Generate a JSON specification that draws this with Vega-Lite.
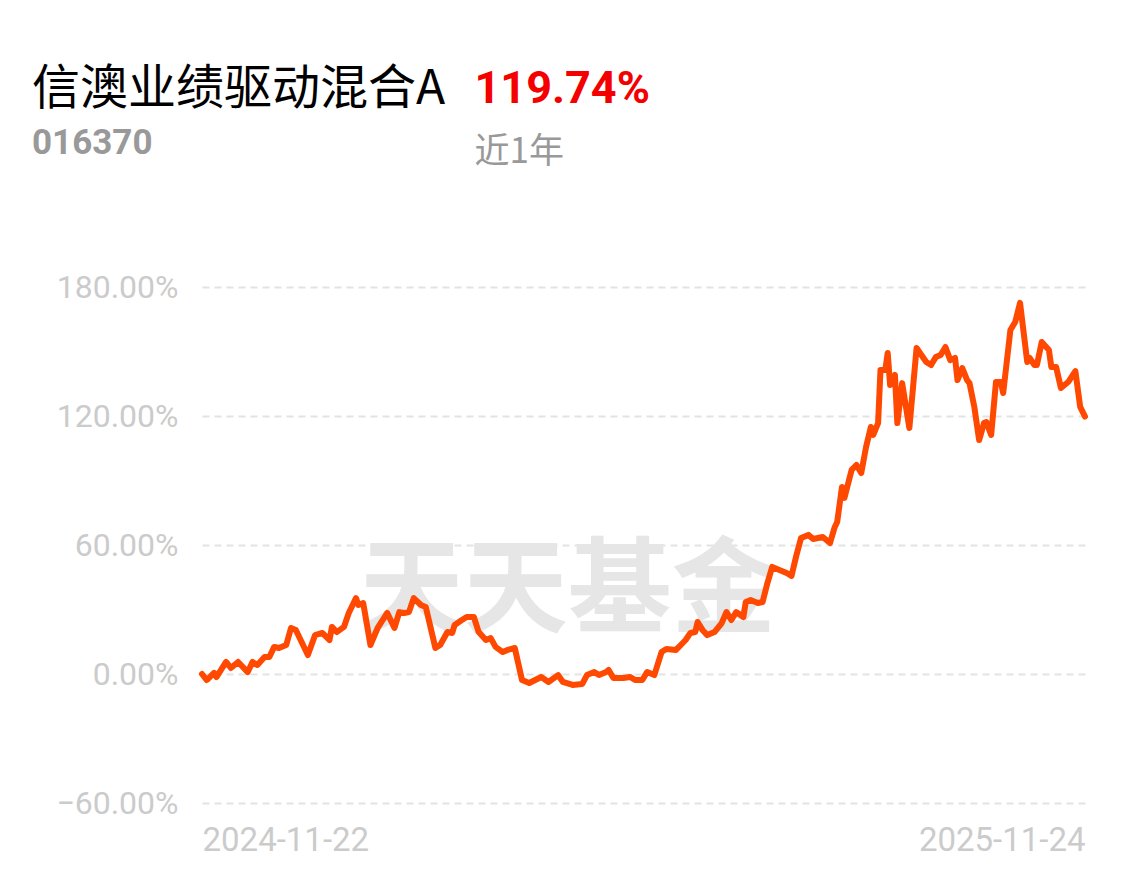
{
  "$schema": "https://vega.github.io/schema/vega-lite/v6.json",
  "width": 883,
  "height": 516,
  "autosize": {"type": "none"},
  "padding": {"left": 202, "top": 287, "right": 45, "bottom": 73},
  "background": "#ffffff",
  "config": {"view": {"stroke": null}},
  "title": {
    "text": "信澳业绩驱动混合A",
    "subtitle": "016370",
    "anchor": "start",
    "frame": "group",
    "orient": "top",
    "dx": -170,
    "dy": 95,
    "offset": 0,
    "font": "Noto Sans CJK SC",
    "fontSize": 48,
    "fontWeight": "normal",
    "color": "#000000",
    "subtitleFont": "Roboto",
    "subtitleFontSize": 35,
    "subtitleFontWeight": "bold",
    "subtitleColor": "#999999",
    "subtitlePadding": 12
  },
  "layer": [
    {
      "data": {"values": [{"wm": "天天基金"}]},
      "mark": {"type": "text", "font": "Noto Sans CJK SC", "fontWeight": "bold", "fontSize": 104, "color": "#e6e6e6", "align": "center", "baseline": "middle"},
      "encoding": {
        "text": {"field": "wm"},
        "x": {
          "datum": {"year": 2025, "month": 4, "date": 23, "utc": true},
          "type": "temporal",
          "axis": {
            "orient": "top", "labels": false, "ticks": false, "domain": false, "grid": false,
            "title": "119.74%", "titleX": 272, "titleY": -185, "titleAlign": "left", "titleBaseline": "alphabetic", "titleAngle": 0,
            "titleFont": "Roboto", "titleFontSize": 45, "titleFontWeight": "bold", "titleColor": "#f40000"
          }
        },
        "y": {
          "datum": 37,
          "type": "quantitative",
          "axis": {
            "orient": "right", "labels": false, "ticks": false, "domain": false, "grid": false,
            "title": "近1年", "titleX": -611, "titleY": -125, "titleAlign": "left", "titleBaseline": "alphabetic", "titleAngle": 0,
            "titleFont": "Noto Sans CJK SC", "titleFontSize": 35, "titleFontWeight": "normal", "titleColor": "#999999"
          }
        }
      }
    },
    {
      "data": {"values": [
        {"date": "2024-11-22", "value": 0},
        {"date": "2024-11-24", "value": -2.8},
        {"date": "2024-11-27", "value": 0.5},
        {"date": "2024-11-28", "value": -1.4},
        {"date": "2024-12-02", "value": 5.6},
        {"date": "2024-12-04", "value": 2.8},
        {"date": "2024-12-07", "value": 5.6},
        {"date": "2024-12-11", "value": 0.9},
        {"date": "2024-12-13", "value": 5.6},
        {"date": "2024-12-15", "value": 4.2},
        {"date": "2024-12-18", "value": 7.9},
        {"date": "2024-12-20", "value": 7.9},
        {"date": "2024-12-22", "value": 12.6},
        {"date": "2024-12-24", "value": 12.1},
        {"date": "2024-12-27", "value": 13.5},
        {"date": "2024-12-29", "value": 21.4},
        {"date": "2024-12-31", "value": 20.5},
        {"date": "2025-01-03", "value": 13.5},
        {"date": "2025-01-05", "value": 8.8},
        {"date": "2025-01-08", "value": 18.1},
        {"date": "2025-01-11", "value": 19.1},
        {"date": "2025-01-14", "value": 15.8},
        {"date": "2025-01-15", "value": 21.9},
        {"date": "2025-01-17", "value": 19.5},
        {"date": "2025-01-20", "value": 21.9},
        {"date": "2025-01-22", "value": 28.4},
        {"date": "2025-01-25", "value": 35.3},
        {"date": "2025-01-26", "value": 32.1},
        {"date": "2025-01-28", "value": 33.0},
        {"date": "2025-01-31", "value": 13.5},
        {"date": "2025-02-03", "value": 21.4},
        {"date": "2025-02-07", "value": 28.4},
        {"date": "2025-02-10", "value": 21.4},
        {"date": "2025-02-12", "value": 28.8},
        {"date": "2025-02-14", "value": 28.4},
        {"date": "2025-02-16", "value": 28.8},
        {"date": "2025-02-18", "value": 35.3},
        {"date": "2025-02-21", "value": 32.1},
        {"date": "2025-02-23", "value": 31.2},
        {"date": "2025-02-27", "value": 12.1},
        {"date": "2025-03-01", "value": 13.5},
        {"date": "2025-03-04", "value": 19.5},
        {"date": "2025-03-06", "value": 19.1},
        {"date": "2025-03-07", "value": 22.8},
        {"date": "2025-03-10", "value": 25.1},
        {"date": "2025-03-12", "value": 26.5},
        {"date": "2025-03-15", "value": 26.5},
        {"date": "2025-03-17", "value": 19.5},
        {"date": "2025-03-20", "value": 15.8},
        {"date": "2025-03-22", "value": 16.7},
        {"date": "2025-03-24", "value": 12.6},
        {"date": "2025-03-27", "value": 10.2},
        {"date": "2025-03-29", "value": 11.2},
        {"date": "2025-04-01", "value": 12.1},
        {"date": "2025-04-04", "value": -2.8},
        {"date": "2025-04-07", "value": -4.2},
        {"date": "2025-04-12", "value": -1.4},
        {"date": "2025-04-15", "value": -3.7},
        {"date": "2025-04-19", "value": -0.5},
        {"date": "2025-04-21", "value": -3.7},
        {"date": "2025-04-25", "value": -5.1},
        {"date": "2025-04-29", "value": -4.7},
        {"date": "2025-05-01", "value": -0.5},
        {"date": "2025-05-04", "value": 0.9},
        {"date": "2025-05-06", "value": -0.5},
        {"date": "2025-05-09", "value": 0.9},
        {"date": "2025-05-10", "value": 1.9},
        {"date": "2025-05-12", "value": -1.9},
        {"date": "2025-05-16", "value": -1.9},
        {"date": "2025-05-19", "value": -1.4},
        {"date": "2025-05-21", "value": -2.8},
        {"date": "2025-05-24", "value": -2.8},
        {"date": "2025-05-26", "value": 0.9},
        {"date": "2025-05-29", "value": -0.5},
        {"date": "2025-06-01", "value": 10.2},
        {"date": "2025-06-03", "value": 11.6},
        {"date": "2025-06-07", "value": 11.2},
        {"date": "2025-06-09", "value": 13.5},
        {"date": "2025-06-11", "value": 15.8},
        {"date": "2025-06-13", "value": 19.1},
        {"date": "2025-06-15", "value": 19.5},
        {"date": "2025-06-16", "value": 24.2},
        {"date": "2025-06-18", "value": 20.5},
        {"date": "2025-06-20", "value": 18.1},
        {"date": "2025-06-23", "value": 19.5},
        {"date": "2025-06-26", "value": 23.7},
        {"date": "2025-06-28", "value": 28.8},
        {"date": "2025-06-30", "value": 25.1},
        {"date": "2025-07-02", "value": 28.8},
        {"date": "2025-07-05", "value": 26.5},
        {"date": "2025-07-06", "value": 33.5},
        {"date": "2025-07-08", "value": 34.4},
        {"date": "2025-07-11", "value": 33.0},
        {"date": "2025-07-13", "value": 33.5},
        {"date": "2025-07-15", "value": 42.3},
        {"date": "2025-07-17", "value": 49.8},
        {"date": "2025-07-20", "value": 48.4},
        {"date": "2025-07-23", "value": 47.0},
        {"date": "2025-07-25", "value": 45.6},
        {"date": "2025-07-27", "value": 55.0},
        {"date": "2025-07-29", "value": 63.3},
        {"date": "2025-08-01", "value": 64.7},
        {"date": "2025-08-03", "value": 62.8},
        {"date": "2025-08-07", "value": 63.7},
        {"date": "2025-08-10", "value": 60.9},
        {"date": "2025-08-12", "value": 68.4},
        {"date": "2025-08-13", "value": 70.7},
        {"date": "2025-08-15", "value": 87.0},
        {"date": "2025-08-16", "value": 81.9},
        {"date": "2025-08-19", "value": 94.9},
        {"date": "2025-08-21", "value": 97.2},
        {"date": "2025-08-23", "value": 93.5},
        {"date": "2025-08-25", "value": 105.6},
        {"date": "2025-08-27", "value": 114.9},
        {"date": "2025-08-28", "value": 111.2},
        {"date": "2025-08-30", "value": 116.7},
        {"date": "2025-08-31", "value": 141.4},
        {"date": "2025-09-02", "value": 141.4},
        {"date": "2025-09-03", "value": 149.3},
        {"date": "2025-09-04", "value": 134.4},
        {"date": "2025-09-06", "value": 139.1},
        {"date": "2025-09-07", "value": 116.7},
        {"date": "2025-09-09", "value": 135.3},
        {"date": "2025-09-12", "value": 114.4},
        {"date": "2025-09-15", "value": 151.6},
        {"date": "2025-09-19", "value": 145.1},
        {"date": "2025-09-21", "value": 143.7},
        {"date": "2025-09-23", "value": 147.4},
        {"date": "2025-09-25", "value": 148.4},
        {"date": "2025-09-27", "value": 152.1},
        {"date": "2025-09-29", "value": 146.0},
        {"date": "2025-10-01", "value": 147.0},
        {"date": "2025-10-02", "value": 136.7},
        {"date": "2025-10-04", "value": 142.3},
        {"date": "2025-10-06", "value": 136.7},
        {"date": "2025-10-07", "value": 135.3},
        {"date": "2025-10-09", "value": 124.2},
        {"date": "2025-10-11", "value": 108.8},
        {"date": "2025-10-13", "value": 116.7},
        {"date": "2025-10-14", "value": 117.2},
        {"date": "2025-10-16", "value": 111.2},
        {"date": "2025-10-18", "value": 135.8},
        {"date": "2025-10-20", "value": 135.8},
        {"date": "2025-10-21", "value": 130.7},
        {"date": "2025-10-24", "value": 160.0},
        {"date": "2025-10-26", "value": 163.7},
        {"date": "2025-10-28", "value": 172.6},
        {"date": "2025-10-31", "value": 145.1},
        {"date": "2025-11-01", "value": 147.0},
        {"date": "2025-11-03", "value": 143.7},
        {"date": "2025-11-04", "value": 143.7},
        {"date": "2025-11-06", "value": 154.4},
        {"date": "2025-11-09", "value": 150.7},
        {"date": "2025-11-10", "value": 142.8},
        {"date": "2025-11-12", "value": 142.8},
        {"date": "2025-11-14", "value": 133.0},
        {"date": "2025-11-17", "value": 135.8},
        {"date": "2025-11-20", "value": 140.9},
        {"date": "2025-11-22", "value": 124.2},
        {"date": "2025-11-24", "value": 119.74}
      ]},
      "mark": {"type": "line", "color": "#ff4800", "strokeWidth": 6, "strokeJoin": "round", "strokeCap": "round"},
      "encoding": {
        "x": {
          "field": "date",
          "type": "temporal",
          "scale": {"type": "utc", "nice": false},
          "axis": {
            "orient": "bottom",
            "values": [{"year": 2024, "month": 11, "date": 22, "utc": true}, {"year": 2025, "month": 11, "date": 24, "utc": true}],
            "format": "%Y-%m-%d",
            "labelFlush": true,
            "domain": false, "ticks": false, "grid": false,
            "labelFont": "Roboto", "labelFontSize": 33, "labelColor": "#cbcbcb", "labelPadding": 21,
            "title": null
          }
        },
        "y": {
          "field": "value",
          "type": "quantitative",
          "scale": {"domain": [-60, 180], "nice": false, "zero": false},
          "axis": {
            "orient": "left",
            "values": [-60, 0, 60, 120, 180],
            "labelExpr": "format(datum.value, '.2f') + '%'",
            "domain": false, "ticks": false,
            "grid": true, "gridColor": "#e3e3e3", "gridDash": [7, 5], "gridWidth": 2,
            "labelFont": "Roboto", "labelFontSize": 32, "labelColor": "#cbcbcb", "labelPadding": 24,
            "title": null
          }
        }
      }
    }
  ],
  "resolve": {"axis": {"x": "independent", "y": "independent"}}
}
